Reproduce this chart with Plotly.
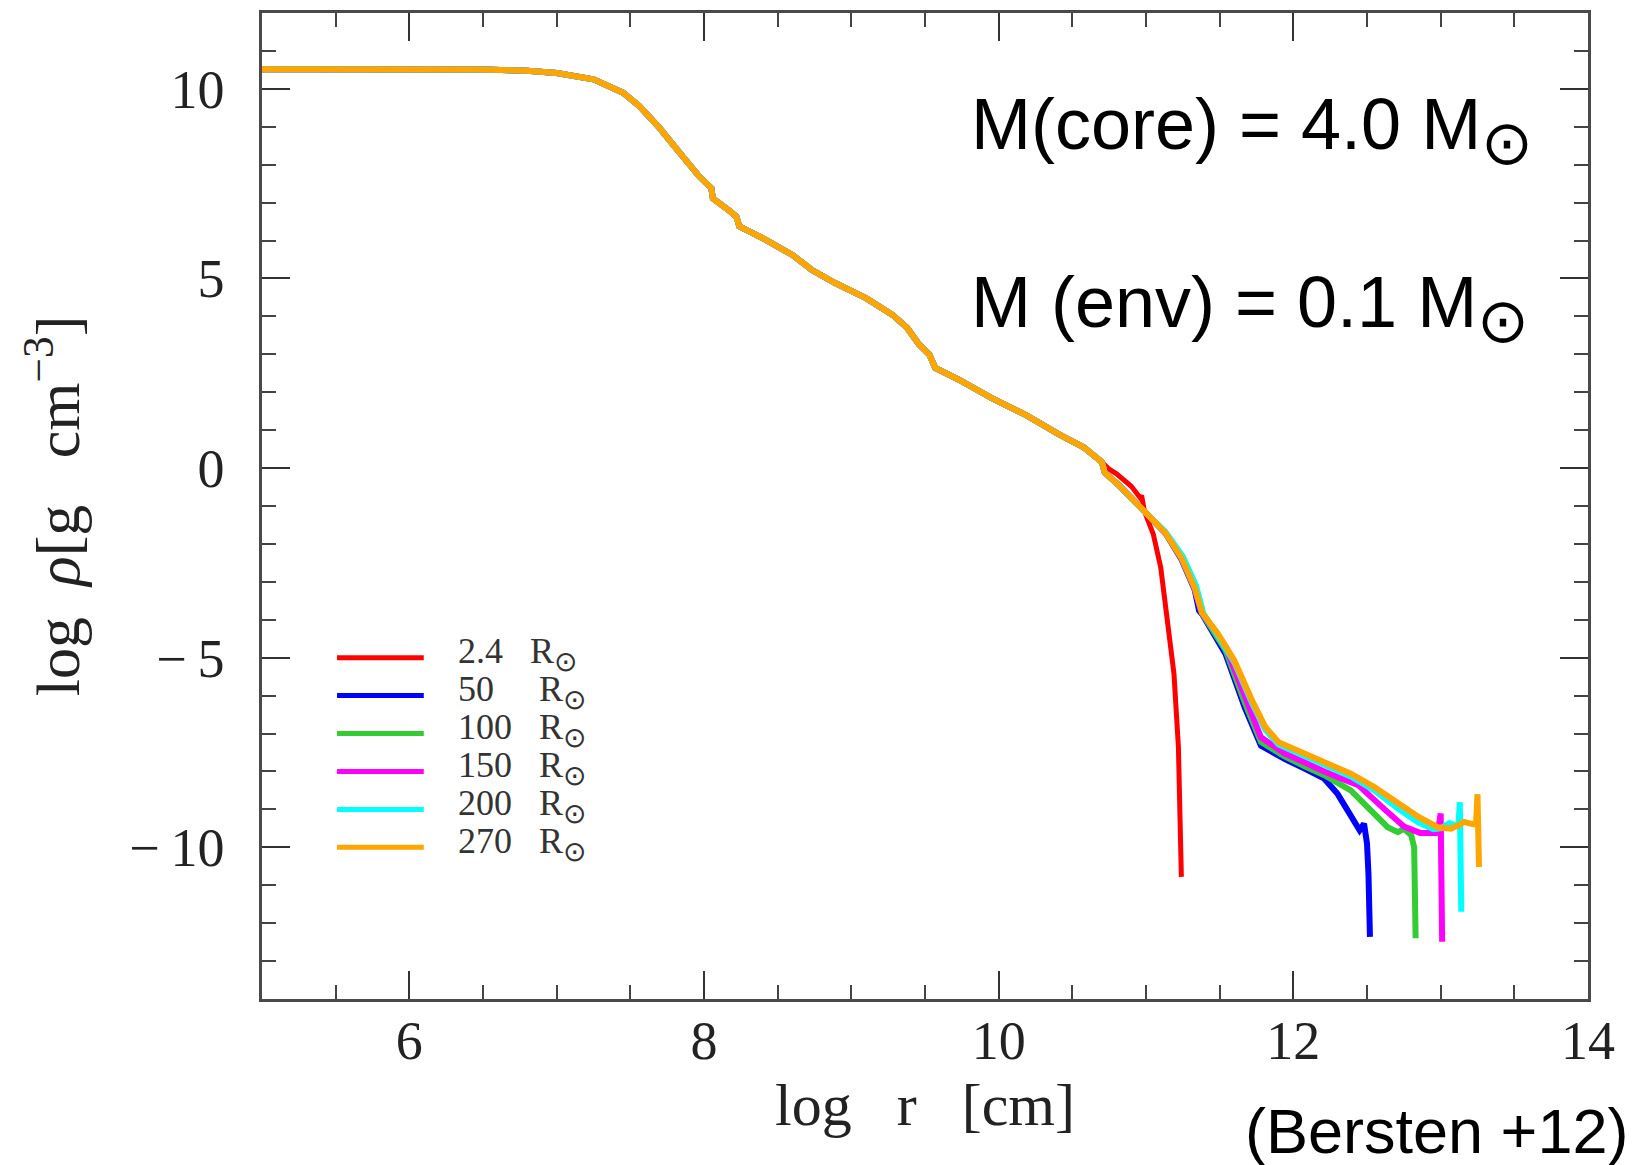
import plotly.graph_objects as go

# ---------------- data ----------------
# shared inner (core) profile: log r [cm], log rho [g cm^-3]
core_x = [5.0, 6.0, 6.5, 6.8, 7.0, 7.25, 7.45, 7.56, 7.70, 7.83, 7.97, 8.05, 8.06,
          8.18, 8.22, 8.24, 8.42, 8.60, 8.73, 8.89, 9.10, 9.28, 9.38, 9.46, 9.53,
          9.57, 9.73, 9.95, 10.18, 10.41, 10.58, 10.70]
core_y = [10.52, 10.52, 10.51, 10.48, 10.42, 10.25, 9.90, 9.55, 8.96, 8.34, 7.68, 7.38, 7.11,
          6.76, 6.63, 6.37, 6.02, 5.62, 5.23, 4.88, 4.48, 4.04, 3.69, 3.26, 2.99,
          2.64, 2.33, 1.85, 1.41, 0.89, 0.54, 0.16]

# envelope tails of each model
r24_x = [10.75, 10.80, 10.90, 10.96, 10.97, 10.99, 11.05, 11.10, 11.14, 11.19, 11.22, 11.23, 11.24]
r24_y = [-0.03, -0.15, -0.48, -0.78, -0.72, -1.15, -1.75, -2.62, -3.85, -5.43, -7.36, -8.94, -10.78]

r50_x = [10.72, 10.81, 10.95, 11.13, 11.24, 11.33, 11.36, 11.38, 11.54, 11.67, 11.78, 11.94,
         12.08, 12.21, 12.30, 12.39, 12.45, 12.48, 12.50, 12.51, 12.52]
r50_y = [-0.12, -0.43, -1.00, -1.70, -2.40, -3.20, -3.76, -3.85, -4.90, -6.31, -7.32, -7.67,
         -7.93, -8.19, -8.59, -9.20, -9.55, -9.38, -9.90, -10.70, -12.36]

r100_x = [10.72, 10.81, 10.95, 11.13, 11.24, 11.33, 11.37, 11.38, 11.54, 11.67, 11.78, 11.94,
          12.08, 12.21, 12.39, 12.53, 12.64, 12.71, 12.75, 12.80, 12.82, 12.83]
r100_y = [-0.12, -0.43, -1.00, -1.70, -2.38, -3.18, -3.72, -3.83, -4.80, -6.18, -7.22, -7.60,
          -7.87, -8.10, -8.50, -9.03, -9.47, -9.60, -9.51, -9.68, -10.00, -12.40]

r150_x = [10.72, 10.81, 10.95, 11.13, 11.24, 11.33, 11.37, 11.38, 11.54, 11.67, 11.78, 11.94,
          12.08, 12.21, 12.32, 12.44, 12.62, 12.75, 12.86, 12.98, 13.00, 13.01]
r150_y = [-0.12, -0.43, -1.00, -1.70, -2.37, -3.16, -3.70, -3.82, -4.70, -6.05, -7.10, -7.52,
          -7.78, -8.00, -8.18, -8.36, -9.00, -9.45, -9.62, -9.62, -9.11, -12.49]

r200_x = [10.72, 10.81, 10.95, 11.13, 11.25, 11.34, 11.38, 11.39, 11.49, 11.60, 11.72, 11.81,
          11.90, 12.15, 12.39, 12.55, 12.71, 12.85, 12.95, 13.00, 13.06, 13.10, 13.12, 13.13, 13.14]
r200_y = [-0.12, -0.43, -1.00, -1.67, -2.33, -3.10, -3.64, -3.84, -4.43, -5.13, -6.20, -6.90,
          -7.29, -7.73, -8.13, -8.50, -8.98, -9.35, -9.52, -9.50, -9.36, -9.42, -9.45, -8.81, -11.70]

r270_x = [10.72, 10.81, 10.95, 11.13, 11.24, 11.33, 11.37, 11.38, 11.49, 11.60, 11.72, 11.81,
          11.90, 12.15, 12.39, 12.55, 12.71, 12.85, 12.98, 13.07, 13.12, 13.16, 13.21, 13.24,
          13.25, 13.26]
r270_y = [-0.12, -0.43, -1.00, -1.70, -2.36, -3.15, -3.68, -3.81, -4.38, -5.08, -6.13, -6.83,
          -7.23, -7.67, -8.06, -8.41, -8.85, -9.20, -9.47, -9.51, -9.42, -9.33, -9.38, -9.40,
          -8.60, -10.52]

series_labels = ["2.4", "50", "100", "150", "200", "270"]
series_colors = ["#FF0000", "#0000FF", "#33CC33", "#FF00FF", "#00FFFF", "#FFA500"]
tails = [(r24_x, r24_y), (r50_x, r50_y), (r100_x, r100_y),
         (r150_x, r150_y), (r200_x, r200_y), (r270_x, r270_y)]

x_ticks = [6, 8, 10, 12, 14]
y_ticks = [-10, -5, 0, 5, 10]


def fmt_tick(v):
    return ("\u2212\u2009" + str(abs(v))) if v < 0 else str(v)


# ---------------- figure ----------------
fig = go.Figure()
for lab, col, (tx, ty) in zip(series_labels, series_colors, tails):
    fig.add_trace(go.Scatter(
        x=core_x + tx, y=core_y + ty, mode="lines", name=lab + " R\u2299",
        line=dict(color=col, width=6 if lab != "2.4" else 5),
        showlegend=False, hoverinfo="skip"))

serif = "Liberation Serif"
sans = "Liberation Sans, Arial, sans-serif"
axcol = "#4a4a4a"
sun_big = "<sub><span style='font-size:62px'>\u2299</span></sub>"
sun_small = "<sub><span style='font-size:28px'>\u2299</span></sub>"

fig.update_layout(
    width=1642, height=1165,
    margin=dict(l=262, r=54, t=10, b=166),
    paper_bgcolor="white", plot_bgcolor="white",
    font=dict(family=serif, color="#222222"),
    xaxis=dict(
        range=[5, 14], tickvals=x_ticks, ticktext=[fmt_tick(v) for v in x_ticks],
        ticks="inside", ticklen=28, tickwidth=2,
        tickcolor="#333333", showline=True, linecolor=axcol, linewidth=2.5,
        mirror="ticks", showgrid=False, zeroline=False,
        minor=dict(dtick=0.5, tick0=5, ticks="inside", ticklen=14, tickwidth=2,
                   tickcolor="#444444", showgrid=False),
        tickfont=dict(family=serif, size=54, color="#222222"),
        ticklabelstandoff=-8,
        title=dict(text="log\u00a0\u00a0\u00a0r\u00a0\u00a0\u00a0[cm]",
                   font=dict(family=serif, size=60, color="#222222"), standoff=14),
    ),
    yaxis=dict(
        range=[-14, 12], tickvals=y_ticks, ticktext=[fmt_tick(v) for v in y_ticks],
        ticks="inside", ticklen=28, tickwidth=2,
        tickcolor="#333333", showline=True, linecolor=axcol, linewidth=2.5,
        mirror="ticks", showgrid=False, zeroline=False,
        minor=dict(dtick=1, tick0=0, ticks="inside", ticklen=14, tickwidth=2,
                   tickcolor="#444444", showgrid=False),
        tickfont=dict(family=serif, size=54, color="#222222"),
        ticklabelstandoff=24,
        title=dict(text="log\u00a0\u00a0<i>\u03c1</i>[g\u00a0\u00a0\u00a0cm<sup>\u22123</sup>]",
                   font=dict(family=serif, size=62, color="#222222"), standoff=30),
    ),
)

# legend drawn as short line samples + labels, aligned with the y ticks -5 .. -10
legend_rows = [-5, -6, -7, -8, -9, -10]
pads = ["\u00a0\u00a0\u00a0", "\u00a0\u00a0\u00a0\u00a0\u00a0", "\u00a0\u00a0\u00a0",
        "\u00a0\u00a0\u00a0", "\u00a0\u00a0\u00a0", "\u00a0\u00a0\u00a0"]
for lab, col, yrow, pad in zip(series_labels, series_colors, legend_rows, pads):
    fig.add_shape(type="line", xref="paper", yref="y", x0=0.0566, x1=0.122,
                  y0=yrow, y1=yrow, line=dict(color=col, width=5))
    fig.add_annotation(xref="paper", yref="y", x=0.146, y=yrow + 0.1, xanchor="left",
                       yanchor="middle", showarrow=False,
                       text=lab + pad + "R" + sun_small,
                       font=dict(family=serif, size=36, color="#333333"))

fig.add_annotation(xref="paper", yref="paper", x=0.533, y=0.881, xanchor="left",
                   yanchor="middle", showarrow=False,
                   text="M(core) = 4.0 M" + sun_big,
                   font=dict(family=sans, size=72, color="black"))
fig.add_annotation(xref="paper", yref="paper", x=0.533, y=0.700, xanchor="left",
                   yanchor="middle", showarrow=False,
                   text="M (env) = 0.1 M" + sun_big,
                   font=dict(family=sans, size=72, color="black"))
fig.add_annotation(xref="paper", yref="paper", x=1.032, y=-0.134, xanchor="right",
                   yanchor="middle", showarrow=False, text="(Bersten +12)",
                   font=dict(family=sans, size=63, color="black"))

fig.write_html("out.html", config={"displayModeBar": False},
               post_script="document.body.style.margin='0';")
